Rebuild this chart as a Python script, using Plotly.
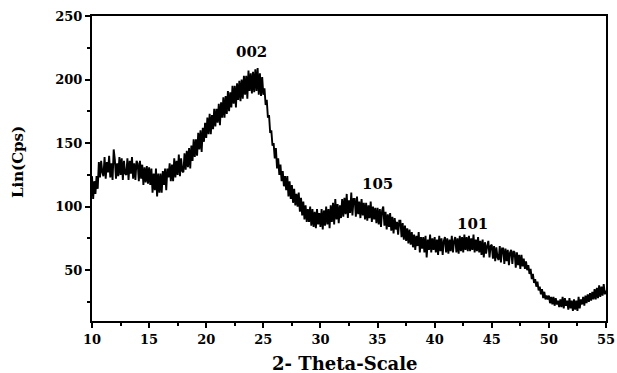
import numpy as np
import plotly.graph_objects as go

x_start = 10.0
x_step = 0.1

intensity = [
    124,106,120,110,124,114,135,123,136,127,
    124,139,122,135,127,140,123,134,121,145,
    137,122,134,124,139,125,138,121,136,126,
    125,138,121,136,126,139,122,134,121,136,
    134,120,136,122,133,117,131,119,132,118,
    131,117,130,111,126,113,130,108,126,111,
    126,111,128,117,130,113,130,123,134,120,
    133,120,138,123,136,125,141,124,138,128,
    127,142,129,144,131,146,130,148,136,153,
    139,153,140,158,145,160,143,162,151,166,
    154,170,157,173,157,172,161,177,163,177,
    166,181,164,182,170,186,170,187,173,191,
    175,190,178,195,181,195,178,197,184,199,
    183,200,185,203,188,203,185,207,191,205,
    189,206,190,208,191,209,188,205,187,202,
    188,193,180,184,170,172,158,160,148,150,
    138,146,130,138,125,133,120,128,116,124,
    113,124,108,120,106,117,103,114,101,110,
    100,111,96,107,93,104,90,101,88,98,
    88,100,85,98,84,96,83,98,86,95,
    84,98,82,97,85,100,86,98,83,101,
    88,103,86,106,90,102,87,101,91,106,
    92,107,94,110,91,105,95,111,93,106,
    106,92,108,94,104,91,106,93,103,90,
    103,89,101,91,104,88,100,90,99,87,
    99,86,98,84,97,100,85,96,82,94,
    84,95,81,92,79,91,82,88,78,89,
    89,76,87,74,85,73,83,71,82,70,
    80,68,78,66,77,69,80,64,76,67,
    76,64,77,60,74,66,78,64,75,66,
    76,64,74,62,77,65,75,62,73,76,
    64,75,63,74,65,77,64,73,76,64,
    75,63,77,65,76,64,78,66,76,65,
    77,65,75,66,78,64,74,65,76,64,
    73,62,74,60,72,63,69,73,60,69,
    70,59,69,57,68,60,58,69,56,67,
    67,55,67,57,66,54,64,66,55,65,
    64,52,64,54,62,51,62,53,59,51,
    57,50,54,47,51,43,47,40,43,37,
    41,34,37,31,35,28,33,27,30,27,
    30,24,29,23,29,22,28,23,26,21,
    27,21,29,20,28,22,26,19,28,20,
    26,18,27,19,26,18,29,20,27,23,
    29,22,30,24,31,25,32,26,33,27,
    35,27,36,28,38,29,37,30,39,31,
    34,
]

two_theta = np.round(x_start + x_step * np.arange(len(intensity)), 2)

peak_labels = ["002", "105", "101"]
peak_x = [24.0, 35.0, 43.3]
peak_y = [222, 118, 86]

x_title = "2- Theta-Scale"
y_title = "Lin(Cps)"

font_family = "DejaVu Serif, serif"

fig = go.Figure()
fig.add_trace(go.Scatter(x=two_theta, y=intensity, mode="lines",
                         line=dict(color="black", width=1.9), showlegend=False))

for lab, px, py in zip(peak_labels, peak_x, peak_y):
    fig.add_annotation(x=px, y=py, text="<b>%s</b>" % lab, showarrow=False,
                       font=dict(family=font_family, size=15, color="black"))

fig.add_annotation(x=0.492, y=-0.138, xref="paper", yref="paper",
                   xanchor="center", yanchor="middle", showarrow=False,
                   text="<b>%s</b>" % x_title,
                   font=dict(family=font_family, size=18, color="black"))
fig.add_annotation(x=-0.144, y=0.521, xref="paper", yref="paper",
                   xanchor="center", yanchor="middle", showarrow=False,
                   textangle=-90, text="<b>%s</b>" % y_title,
                   font=dict(family=font_family, size=15, color="black"))

axis_common = dict(showline=True, linecolor="black", linewidth=2, mirror=True,
                   ticks="outside", ticklen=5, tickwidth=1.5, tickcolor="black",
                   showgrid=False, zeroline=False, automargin=False,
                   tickfont=dict(family=font_family, size=13, color="black"))

fig.update_xaxes(range=[10, 55], dtick=5, tick0=10,
                 minor=dict(dtick=2.5, ticks="outside", ticklen=3, tickcolor="black"),
                 tickprefix="<b>", ticksuffix="</b>", **axis_common)
fig.update_yaxes(range=[10, 250], dtick=50, tick0=0,
                 minor=dict(dtick=25, ticks="outside", ticklen=3, tickcolor="black"),
                 tickprefix="<b>", ticksuffix="</b>", **axis_common)

fig.update_layout(width=617, height=373, margin=dict(l=92, r=11, t=16, b=52),
                  paper_bgcolor="white", plot_bgcolor="white")

fig.write_html("out.html")
